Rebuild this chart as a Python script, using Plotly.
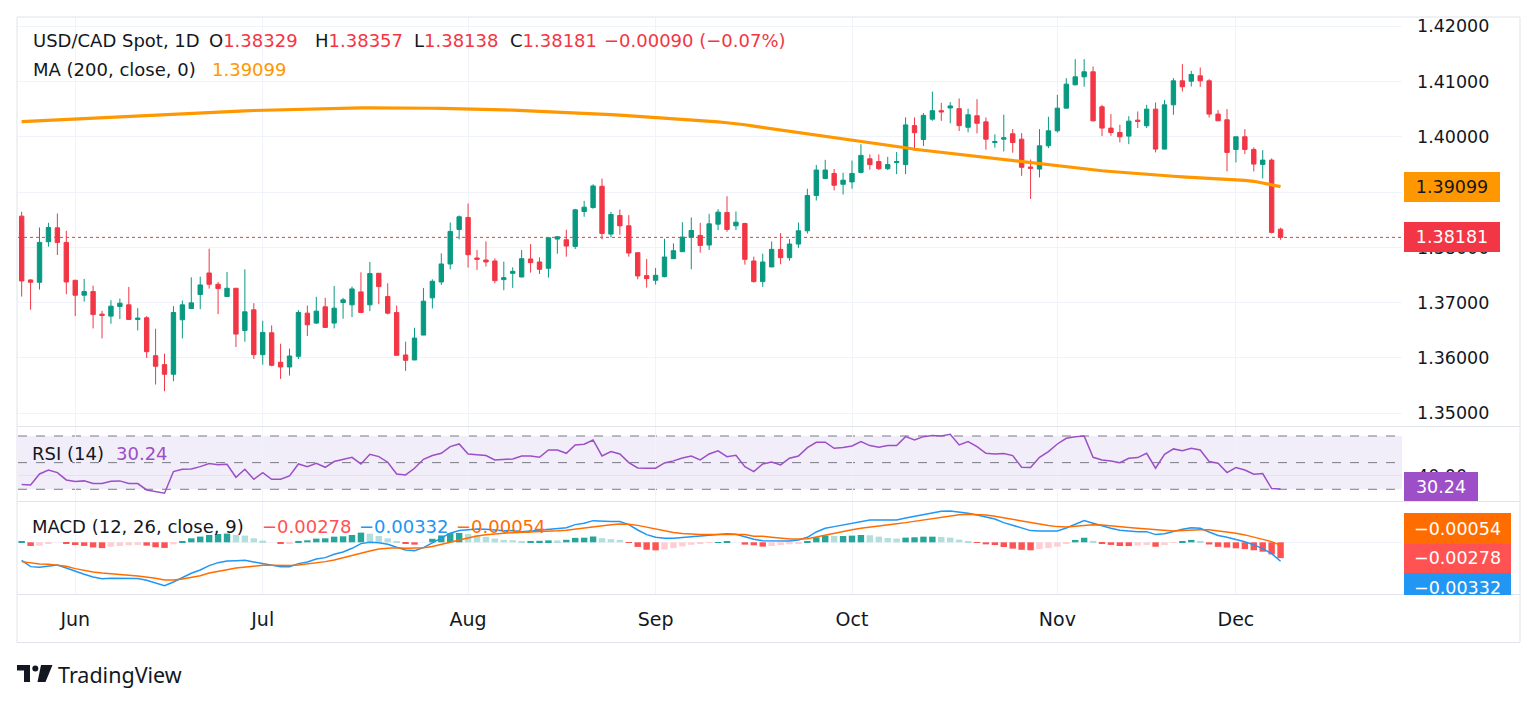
import plotly.graph_objects as go
import pandas as pd

# ---------------- data ----------------
dates = pd.bdate_range("2025-05-23", "2025-12-08").strftime("%Y-%m-%d").tolist()

opens = [1.38565,1.37411,1.37369,1.38102,1.38354,1.38090,1.37405,1.37135,1.37201,1.36793,
         1.36757,1.36931,1.36961,1.36697,1.36727,1.36042,1.35880,1.35706,1.36691,1.36895,
         1.37147,1.37537,1.37333,1.37111,1.37261,1.36498,1.36871,1.36060,1.36456,1.35922,
         1.35838,1.36030,1.36811,1.36631,1.36925,1.36631,1.37003,1.36961,1.37195,1.36961,
         1.37532,1.37111,1.36823,1.36054,1.35964,1.36414,1.37087,1.37375,1.37700,1.38324,
         1.38541,1.37808,1.37772,1.37754,1.37417,1.37531,1.37465,1.37790,1.37736,1.37622,
         1.38150,1.38138,1.38018,1.38649,1.38721,1.39105,1.38240,1.38577,1.38390,1.37904,
         1.37489,1.37405,1.37471,1.37796,1.37922,1.38180,1.38216,1.38042,1.38420,1.38631,
         1.38390,1.38432,1.37754,1.37381,1.37646,1.37964,1.37814,1.38060,1.38300,1.38939,
         1.39245,1.39337,1.39141,1.39184,1.39356,1.39601,1.39552,1.39423,1.39534,1.39497,
         1.40202,1.39951,1.40319,1.40472,1.40521,1.40509,1.40172,1.40380,1.40270,1.39896,
         1.39957,1.40055,1.39957,1.39454,1.39416,1.39837,1.40108,1.40518,1.40940,1.41084,
         1.41175,1.40542,1.40157,1.40078,1.40012,1.40301,1.40199,1.40500,1.39777,1.40578,
         1.41012,1.41006,1.41102,1.41012,1.40410,1.40307,1.39771,1.40000,1.39771,1.39500,
         1.39578,1.38329]
highs = [1.38643,1.37423,1.38360,1.38444,1.38613,1.38300,1.37411,1.37429,1.37309,1.36853,
         1.37045,1.37075,1.37285,1.36901,1.36757,1.36529,1.36078,1.36937,1.37039,1.37459,
         1.37471,1.37976,1.37375,1.37555,1.37261,1.37603,1.36991,1.36673,1.36589,1.36258,
         1.36168,1.36865,1.36949,1.37105,1.37087,1.37300,1.37087,1.37291,1.37550,1.37736,
         1.37532,1.37351,1.36949,1.36294,1.36547,1.37267,1.37423,1.37892,1.38450,1.38577,
         1.38793,1.37952,1.38108,1.37802,1.37742,1.37640,1.37952,1.38060,1.37820,1.38174,
         1.38204,1.38318,1.38697,1.38841,1.39141,1.39243,1.38643,1.38685,1.38583,1.37904,
         1.37790,1.37628,1.38156,1.38072,1.38456,1.38541,1.38444,1.38607,1.38691,1.38925,
         1.38649,1.38444,1.37832,1.37886,1.38108,1.38258,1.38150,1.38450,1.39061,1.39491,
         1.39583,1.39417,1.39350,1.39571,1.39865,1.39681,1.39681,1.39638,1.39724,1.40350,
         1.40350,1.40429,1.40816,1.40613,1.40626,1.40693,1.40509,1.40681,1.40350,1.40043,
         1.40399,1.40141,1.40067,1.39589,1.40139,1.40361,1.40759,1.41060,1.41404,1.41404,
         1.41271,1.40578,1.40410,1.40217,1.40373,1.40458,1.40578,1.40620,1.40663,1.41060,
         1.41313,1.41193,1.41253,1.41042,1.40482,1.40500,1.40000,1.40139,1.39807,1.39759,
         1.39608,1.38357]
lows = [1.37111,1.36871,1.37237,1.38012,1.37862,1.37153,1.36757,1.37021,1.36535,1.36354,
        1.36619,1.36703,1.36691,1.36499,1.36000,1.35520,1.35399,1.35580,1.36354,1.36883,
        1.36883,1.37255,1.36793,1.37111,1.36198,1.36294,1.35982,1.35880,1.35850,1.35622,
        1.35682,1.35982,1.36396,1.36613,1.36541,1.36535,1.36709,1.36739,1.36811,1.36847,
        1.36973,1.36787,1.36048,1.35766,1.35964,1.36414,1.36895,1.37321,1.37604,1.38144,
        1.37634,1.37592,1.37652,1.37351,1.37225,1.37267,1.37459,1.37544,1.37520,1.37453,
        1.37886,1.37832,1.37970,1.38553,1.38697,1.38144,1.38180,1.38228,1.37832,1.37423,
        1.37273,1.37327,1.37459,1.37796,1.37922,1.37604,1.37904,1.37952,1.38312,1.38282,
        1.38312,1.37688,1.37363,1.37285,1.37646,1.37694,1.37760,1.37990,1.38250,1.38847,
        1.39233,1.39031,1.38957,1.39061,1.39337,1.39405,1.39399,1.39399,1.39325,1.39325,
        1.39755,1.39834,1.40290,1.40288,1.40245,1.40104,1.40080,1.40061,1.39767,1.39804,
        1.39736,1.39712,1.39294,1.38877,1.39265,1.39795,1.40078,1.40518,1.40928,1.40904,
        1.40277,1.40012,1.40018,1.39898,1.39867,1.40157,1.40157,1.39717,1.39777,1.40398,
        1.40819,1.40910,1.40904,1.40349,1.40289,1.39373,1.39536,1.39687,1.39373,1.39247,
        1.38253,1.38138]
closes = [1.37393,1.37369,1.38090,1.38360,1.38090,1.37375,1.37135,1.37201,1.36787,1.36769,
          1.36937,1.36991,1.36697,1.36721,1.36114,1.35850,1.35706,1.36823,1.36961,1.36997,
          1.37321,1.37333,1.37255,1.37261,1.36432,1.36835,1.36060,1.36462,1.35868,1.35838,
          1.36036,1.36823,1.36601,1.36847,1.36553,1.36901,1.37051,1.37249,1.36823,1.37526,
          1.37291,1.36811,1.36048,1.35958,1.36360,1.37027,1.37387,1.37700,1.38288,1.38553,
          1.37868,1.37784,1.37736,1.37399,1.37453,1.37567,1.37796,1.37724,1.37604,1.38174,
          1.38192,1.38024,1.38679,1.38727,1.39111,1.38252,1.38595,1.38390,1.37898,1.37483,
          1.37435,1.37495,1.37826,1.37940,1.38186,1.38306,1.38036,1.38426,1.38637,1.38324,
          1.38456,1.37784,1.37381,1.37736,1.37964,1.37814,1.38060,1.38300,1.38939,1.39399,
          1.39399,1.39123,1.39215,1.39337,1.39663,1.39497,1.39423,1.39497,1.39552,1.40215,
          1.40074,1.40387,1.40472,1.40450,1.40558,1.40202,1.40399,1.40245,1.39957,1.39914,
          1.39982,1.39896,1.39448,1.39429,1.39837,1.40108,1.40518,1.40952,1.41084,1.41175,
          1.40289,1.40157,1.40078,1.40000,1.40283,1.40277,1.40500,1.39777,1.40578,1.41012,
          1.40904,1.41127,1.41012,1.40410,1.40289,1.39717,1.40000,1.39771,1.39506,1.39578,
          1.38271,1.38181]

ma200 = [1.40273,1.40281,1.40289,1.40297,1.40305,1.40313,1.40321,1.40329,1.40337,1.40345,
         1.40353,1.40363,1.40373,1.40383,1.40393,1.40403,1.40411,1.40419,1.40427,1.40435,
         1.40443,1.40449,1.40455,1.40460,1.40465,1.40470,1.40475,1.40480,1.40485,1.40490,
         1.40495,1.40499,1.40503,1.40507,1.40511,1.40515,1.40518,1.40521,1.40523,1.40524,
         1.40525,1.40524,1.40523,1.40521,1.40520,1.40518,1.40516,1.40514,1.40512,1.40510,
         1.40508,1.40503,1.40498,1.40492,1.40487,1.40482,1.40476,1.40469,1.40463,1.40456,
         1.40450,1.40443,1.40435,1.40427,1.40420,1.40412,1.40402,1.40392,1.40382,1.40372,
         1.40363,1.40352,1.40341,1.40331,1.40320,1.40310,1.40296,1.40282,1.40268,1.40254,
         1.40240,1.40217,1.40193,1.40170,1.40146,1.40123,1.40102,1.40082,1.40061,1.40041,
         1.40020,1.39997,1.39974,1.39951,1.39928,1.39905,1.39879,1.39853,1.39827,1.39801,
         1.39775,1.39756,1.39737,1.39718,1.39699,1.39680,1.39662,1.39644,1.39626,1.39608,
         1.39590,1.39570,1.39550,1.39530,1.39510,1.39490,1.39472,1.39454,1.39436,1.39418,
         1.39400,1.39386,1.39372,1.39358,1.39344,1.39330,1.39319,1.39308,1.39297,1.39286,
         1.39275,1.39268,1.39261,1.39254,1.39247,1.39240,1.39227,1.39213,1.39195,1.39163,
         1.39132,1.39099]

rsi = [33.5,33.3,41.5,44.5,42.5,37.0,35.8,36.3,34.3,34.3,36.0,36.3,34.3,34.3,29.5,28.3,27.0,43.3,45.0,45.3,
       47.0,49.3,48.5,48.8,39.0,45.0,37.5,42.5,37.5,37.5,40.0,49.0,47.0,49.5,46.5,50.8,52.3,54.0,49.0,56.3,
       54.5,50.3,41.5,40.8,45.8,52.5,55.3,57.0,62.0,64.0,56.5,56.0,55.3,52.0,52.5,52.8,55.0,55.0,54.0,59.5,
       59.5,57.0,63.3,63.8,67.0,55.0,58.3,56.5,50.0,46.0,45.8,45.8,49.8,51.3,53.5,55.0,52.0,56.5,58.8,54.5,
       55.5,47.0,43.3,49.0,50.5,48.3,53.3,55.0,61.3,65.3,65.3,60.8,61.3,62.5,65.8,62.8,61.5,62.8,62.8,69.5,
       67.0,69.5,70.3,70.0,71.3,63.3,65.8,62.0,57.0,56.5,56.8,55.3,46.5,46.3,54.0,58.3,64.0,68.3,69.5,70.0,
       54.0,52.0,51.3,50.0,53.3,53.8,57.0,45.8,56.3,60.3,59.0,60.8,59.5,50.8,49.5,42.5,46.3,44.5,41.3,41.8,
       30.5,30.24]

macd = [-0.00316,-0.00427,-0.00439,-0.00415,-0.00398,-0.00450,-0.00510,-0.00560,-0.00610,-0.00640,
        -0.00632,-0.00632,-0.00632,-0.00637,-0.00667,-0.00719,-0.00760,-0.00696,-0.00620,-0.00544,
        -0.00485,-0.00409,-0.00357,-0.00327,-0.00322,-0.00316,-0.00345,-0.00374,-0.00404,-0.00427,
        -0.00427,-0.00374,-0.00345,-0.00292,-0.00269,-0.00211,-0.00170,-0.00105,-0.00023,0.00000,
        -0.00006,-0.00035,-0.00088,-0.00135,-0.00146,-0.00094,-0.00010,0.00080,0.00160,0.00205,
        0.00225,0.00232,0.00228,0.00216,0.00202,0.00205,0.00187,0.00199,0.00211,0.00228,
        0.00234,0.00257,0.00310,0.00333,0.00380,0.00368,0.00363,0.00363,0.00310,0.00216,
        0.00135,0.00088,0.00070,0.00070,0.00082,0.00099,0.00117,0.00129,0.00140,0.00152,
        0.00140,0.00094,0.00053,0.00029,0.00023,0.00023,0.00023,0.00041,0.00088,0.00181,
        0.00246,0.00275,0.00304,0.00339,0.00374,0.00392,0.00392,0.00392,0.00392,0.00427,
        0.00456,0.00497,0.00526,0.00544,0.00550,0.00532,0.00509,0.00480,0.00444,0.00409,
        0.00345,0.00295,0.00245,0.00205,0.00199,0.00193,0.00199,0.00251,0.00322,0.00380,
        0.00333,0.00287,0.00246,0.00211,0.00193,0.00187,0.00187,0.00135,0.00152,0.00193,
        0.00228,0.00257,0.00246,0.00180,0.00120,0.00090,0.00055,0.00010,-0.00045,-0.00110,
        -0.00200,-0.00332]
signal = [-0.00339,-0.00363,-0.00380,-0.00386,-0.00398,-0.00421,-0.00462,-0.00497,-0.00520,-0.00538,
          -0.00556,-0.00567,-0.00579,-0.00591,-0.00608,-0.00632,-0.00661,-0.00661,-0.00643,-0.00614,
          -0.00585,-0.00538,-0.00503,-0.00480,-0.00450,-0.00433,-0.00415,-0.00404,-0.00404,-0.00409,
          -0.00409,-0.00398,-0.00380,-0.00357,-0.00339,-0.00310,-0.00275,-0.00234,-0.00193,-0.00152,
          -0.00117,-0.00105,-0.00094,-0.00105,-0.00105,-0.00094,-0.00072,-0.00040,0.00000,0.00041,
          0.00078,0.00109,0.00133,0.00150,0.00160,0.00169,0.00173,0.00178,0.00185,0.00194,
          0.00202,0.00213,0.00232,0.00252,0.00278,0.00296,0.00309,0.00320,0.00318,0.00297,
          0.00265,0.00229,0.00197,0.00172,0.00154,0.00143,0.00138,0.00136,0.00137,0.00140,
          0.00140,0.00135,0.00105,0.00105,0.00088,0.00070,0.00058,0.00058,0.00064,0.00094,
          0.00129,0.00164,0.00193,0.00222,0.00246,0.00269,0.00292,0.00316,0.00327,0.00345,
          0.00368,0.00398,0.00427,0.00450,0.00468,0.00485,0.00491,0.00491,0.00480,0.00456,
          0.00427,0.00406,0.00377,0.00345,0.00318,0.00294,0.00275,0.00270,0.00280,0.00300,
          0.00307,0.00303,0.00292,0.00276,0.00259,0.00245,0.00233,0.00213,0.00201,0.00199,
          0.00205,0.00215,0.00221,0.00218,0.00200,0.00182,0.00160,0.00130,0.00095,0.00055,
          0.00012,-0.00054]

month_ticks = ["2025-06-02", "2025-07-01", "2025-08-01", "2025-09-01", "2025-10-01", "2025-11-03", "2025-12-01"]
month_labels = ["Jun", "Jul", "Aug", "Sep", "Oct", "Nov", "Dec"]
price_ticks = [1.35, 1.36, 1.37, 1.38, 1.39, 1.40, 1.41, 1.42]

# ---------------- style ----------------
W, H = 1536, 705
FONT = "DejaVu Sans"
TXT = "#131722"
UP, DN = "#089981", "#F23645"
MA_C = "#FF9800"
RSI_C = "#9C4FC6"
MACD_C, SIG_C = "#2196F3", "#FF6D00"
GRID = "#F0F3FA"
BORDER = "#E0E3EB"
FS = 17.5

def px(x):
    return x / W

def py(y):
    return 1 - y / H

hist = [m - s for m, s in zip(macd, signal)]
hist_colors = []
for i, h in enumerate(hist):
    prev = hist[i - 1] if i > 0 else h
    if h >= 0:
        hist_colors.append("#26A69A" if h >= prev else "#B2DFDB")
    else:
        hist_colors.append("#FF5252" if h < prev else "#FFCDD2")

fig = go.Figure()
fig.add_trace(go.Candlestick(
    x=dates, open=opens, high=highs, low=lows, close=closes,
    increasing=dict(line=dict(color=UP, width=1), fillcolor=UP),
    decreasing=dict(line=dict(color=DN, width=1), fillcolor=DN),
    whiskerwidth=0, xaxis="x", yaxis="y", hoverinfo="skip", showlegend=False))
fig.add_trace(go.Scatter(x=dates, y=ma200, mode="lines", line=dict(color=MA_C, width=3.2),
                         xaxis="x", yaxis="y", hoverinfo="skip", showlegend=False))
fig.add_trace(go.Scatter(x=dates, y=rsi, mode="lines", line=dict(color=RSI_C, width=1.5),
                         xaxis="x2", yaxis="y2", hoverinfo="skip", showlegend=False))
fig.add_trace(go.Bar(x=dates, y=hist, marker=dict(color=hist_colors, line=dict(width=0)), width=0.72,
                     xaxis="x3", yaxis="y3", hoverinfo="skip", showlegend=False))
fig.add_trace(go.Scatter(x=dates, y=macd, mode="lines", line=dict(color=MACD_C, width=1.5),
                         xaxis="x3", yaxis="y3", hoverinfo="skip", showlegend=False))
fig.add_trace(go.Scatter(x=dates, y=signal, mode="lines", line=dict(color=SIG_C, width=1.5),
                         xaxis="x3", yaxis="y3", hoverinfo="skip", showlegend=False))

xdom = [px(18), px(1402)]
xr = [-0.41, 154.6]
common_x = dict(type="category", categoryorder="array", categoryarray=dates, domain=xdom, range=xr,
                showgrid=True, gridcolor=GRID, gridwidth=1, tickvals=month_ticks, ticktext=month_labels,
                ticks="", showline=False, zeroline=False, fixedrange=True)

fig.update_layout(
    width=W, height=H, margin=dict(l=0, r=0, t=0, b=0),
    paper_bgcolor="white", plot_bgcolor="white",
    font=dict(family=FONT, color=TXT, size=FS),
    showlegend=False, hovermode=False, boxgap=0.3,
    xaxis=dict(common_x, anchor="y", showticklabels=False, rangeslider=dict(visible=False)),
    xaxis2=dict(common_x, anchor="y2", showticklabels=False),
    xaxis3=dict(common_x, anchor="y3", showticklabels=True, ticklabelstandoff=12,
                tickfont=dict(size=19, color=TXT, family=FONT)),
    yaxis=dict(domain=[py(426), py(17)], range=[1.3477, 1.42166], side="right", anchor="x",
               tickvals=price_ticks, tickformat=".5f", showgrid=True, gridcolor=GRID,
               zeroline=False, showline=False, ticks="", ticklabelstandoff=14,
               tickfont=dict(size=FS, color=TXT, family=FONT)),
    yaxis2=dict(domain=[py(501), py(427)], range=[21.2, 76.75], side="right", anchor="x2",
                tickvals=[40], ticktext=["40.00"], showgrid=True, gridcolor="#E6E1F0",
                zeroline=False, showline=False, ticks="", ticklabelstandoff=14,
                tickfont=dict(size=FS, color=TXT, family=FONT)),
    yaxis3=dict(domain=[py(594), py(502)], range=[-0.00907, 0.00707], side="right", anchor="x3",
                tickvals=[0], ticktext=["0.00000"], showgrid=True, gridcolor=GRID,
                zeroline=False, showline=False, ticks="", ticklabelstandoff=14,
                tickfont=dict(size=FS, color=TXT, family=FONT)),
)

shapes = []
shapes.append(dict(type="rect", xref="x2 domain", yref="y2", x0=0, x1=1, y0=30, y1=70,
                   fillcolor="rgba(126,87,194,0.10)", line=dict(width=0), layer="below"))
for lvl in (70, 50, 30):
    shapes.append(dict(type="line", xref="x2 domain", yref="y2", x0=0, x1=1, y0=lvl, y1=lvl,
                       line=dict(color="#787B86", width=1, dash="dash"), layer="below"))
shapes.append(dict(type="line", xref="x domain", yref="y", x0=0, x1=1, y0=closes[-1], y1=closes[-1],
                   line=dict(color=DN, width=1, dash="dot"), layer="above"))
for yy in (426.5, 501.5, 594.5):
    shapes.append(dict(type="line", xref="paper", yref="paper", x0=px(17), x1=px(1520), y0=py(yy), y1=py(yy),
                       line=dict(color=BORDER, width=1)))
shapes.append(dict(type="rect", xref="paper", yref="paper", x0=px(17), x1=px(1520), y0=py(642.5), y1=py(17),
                   line=dict(color=BORDER, width=1), fillcolor="rgba(0,0,0,0)"))

def path(points):
    return "M " + " L ".join(f"{px(a):.5f},{py(b):.5f}" for a, b in points) + " Z"
shapes.append(dict(type="path", xref="paper", yref="paper",
                   path=path([(17, 665), (30, 665), (30, 682), (24, 682), (24, 670.5), (17, 670.5)]),
                   fillcolor=TXT, line=dict(width=0)))
shapes.append(dict(type="circle", xref="paper", yref="paper", x0=px(32.3), x1=px(38.3), y0=py(671.5), y1=py(665.5),
                   fillcolor=TXT, line=dict(width=0)))
shapes.append(dict(type="path", xref="paper", yref="paper",
                   path=path([(41, 665), (52.5, 665), (45.5, 682), (37.5, 682)]),
                   fillcolor=TXT, line=dict(width=0)))
fig.update_layout(shapes=shapes)

ann = []
def text(x, y, s, size=18, color=TXT, anchor="left", family=FONT):
    ann.append(dict(xref="paper", yref="paper", x=px(x), y=py(y), text=s, showarrow=False,
                    xanchor=anchor, yanchor="middle", font=dict(size=size, color=color, family=family)))

def col(s, c=DN):
    return f"<span style='color:{c}'>{s}</span>"

# header
text(31, 41, "USD/CAD Spot, 1D")
text(207, 41, "O" + col("1.38329"))
text(313, 41, "H" + col("1.38357"))
text(412, 41, "L" + col("1.38138"))
text(508, 41, "C" + col("1.38181"))
text(602, 41, col("\u22120.00090 (\u22120.07%)"))
text(31, 69, "MA (200, close, 0)")
text(210, 69, col("1.39099", MA_C))
# RSI legend
text(30, 453.5, "RSI (14)")
text(114, 453.5, col("30.24", RSI_C))
# MACD legend
text(30, 526.5, "MACD (12, 26, close, 9)")
text(260, 526.5, col("\u22120.00278", "#FF5252"))
text(357, 526.5, col("\u22120.00332", MACD_C))
text(454, 526.5, col("\u22120.00054", SIG_C))
# footer brand
text(56, 674, "TradingView", size=21.5, family="Noto Sans")

def box(xc, yc, w, h, s, bg, fg="white"):
    ann.append(dict(xref="paper", yref="paper", x=px(xc), y=py(yc), text=s, showarrow=False,
                    xanchor="center", yanchor="middle", width=w, height=h, bgcolor=bg,
                    borderpad=0, borderwidth=0, align="center", valign="middle",
                    font=dict(size=FS, color=fg, family=FONT)))

box(1452, 186.7, 96, 30, "1.39099", MA_C, TXT)
box(1452, 237, 96, 30, "1.38181", DN)
box(1441, 486.5, 74, 29, "30.24", RSI_C)
box(1457.5, 528.8, 107, 31, "\u22120.00054", SIG_C)
box(1457.5, 558.5, 107, 28.5, "\u22120.00278", "#FF5252")
box(1457.5, 587.2, 107, 29, "\u22120.00332", MACD_C)
ann.append(dict(xref="paper", yref="paper", x=px(1458), y=py(595.2), text=" ", showarrow=False,
                xanchor="center", yanchor="top", width=114, height=12, bgcolor="white",
                borderpad=0, borderwidth=0))
fig.update_layout(annotations=ann)

fig.write_html("out.html")
